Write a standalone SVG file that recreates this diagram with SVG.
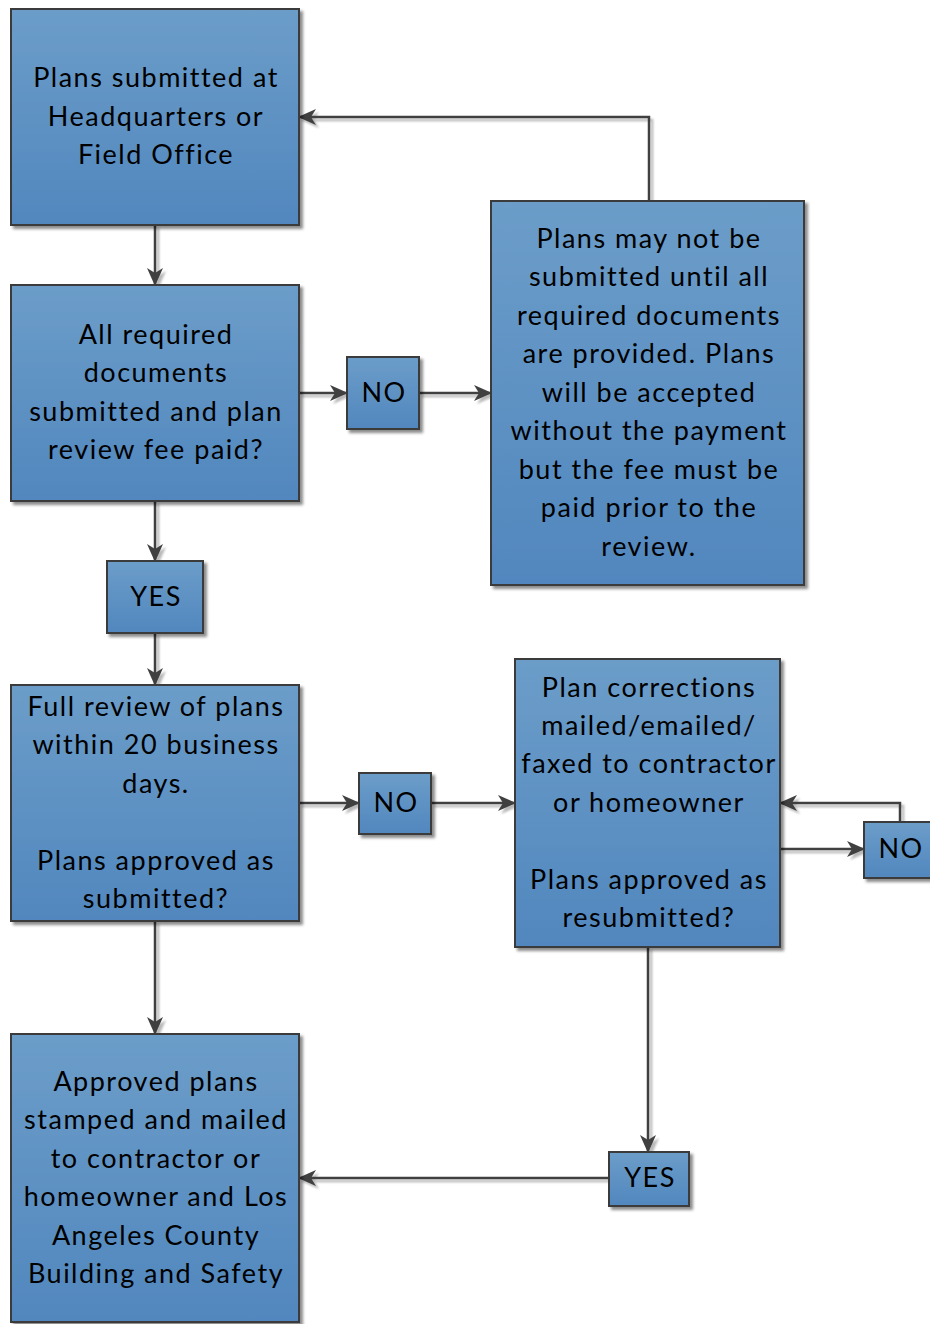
<svg xmlns="http://www.w3.org/2000/svg" width="930" height="1324" viewBox="0 0 930 1324">
<defs>
<linearGradient id="g" x1="0" y1="0" x2="0" y2="1">
<stop offset="0" stop-color="#6c9dc9"/>
<stop offset="1" stop-color="#5187be"/>
</linearGradient>
<filter id="sh" x="-10%" y="-10%" width="130%" height="130%">
<feDropShadow dx="3" dy="3" stdDeviation="1.5" flood-color="#000" flood-opacity="0.45"/>
</filter>
<filter id="lsh" x="-10%" y="-10%" width="130%" height="130%">
<feDropShadow dx="3" dy="3" stdDeviation="1" flood-color="#000" flood-opacity="0.28"/>
</filter>
<marker id="ah" viewBox="0 0 18 16" refX="17" refY="8" markerWidth="18" markerHeight="16" markerUnits="userSpaceOnUse" orient="auto">
<path d="M0,0 L18,8 L0,16 L5,8 Z" fill="#404040"/>
</marker>
</defs>
<style>
.box{fill:url(#g);stroke:#3b3b3b;stroke-width:2;filter:url(#sh)}
.t{font-family:Lato,"Open Sans",sans-serif;font-size:27px;letter-spacing:1.5px;fill:#000;text-anchor:middle}
.c{fill:none;stroke:#404040;stroke-width:2.5;marker-end:url(#ah)}
</style>
<rect width="930" height="1324" fill="#fff"/>
<g id="connectors" filter="url(#lsh)">
<path class="c" d="M155,225 V285"/>
<path class="c" d="M299,393 H347"/>
<path class="c" d="M419,393 H491"/>
<path class="c" d="M649,201 V117 H299"/>
<path class="c" d="M155,501 V561"/>
<path class="c" d="M155,633 V685"/>
<path class="c" d="M299,803 H359"/>
<path class="c" d="M431,803 H515"/>
<path class="c" d="M780,849 H864"/>
<path class="c" d="M900,822 V803 H780"/>
<path class="c" d="M648,947 V1152"/>
<path class="c" d="M609,1178 H299"/>
<path class="c" d="M155,921 V1034"/>
</g>
<g id="n1"><rect class="box" x="11" y="9" width="288" height="216"/>
<text class="t" x="156" y="87">Plans submitted at</text><text class="t" x="156" y="126">Headquarters or</text><text class="t" x="156" y="164">Field Office</text></g>
<g id="n2"><rect class="box" x="11" y="285" width="288" height="216"/>
<text class="t" x="156" y="344">All required</text><text class="t" x="156" y="382">documents</text><text class="t" x="156" y="421">submitted and plan</text><text class="t" x="156" y="459">review fee paid?</text></g>
<g id="no1"><rect class="box" x="347" y="357" width="72" height="72"/><text class="t" x="384" y="402">NO</text></g>
<g id="n3"><rect class="box" x="491" y="201" width="313" height="384"/>
<text class="t" x="649" y="248">Plans may not be</text><text class="t" x="649" y="286">submitted until all</text><text class="t" x="649" y="325">required documents</text><text class="t" x="649" y="363">are provided. Plans</text><text class="t" x="649" y="402">will be accepted</text><text class="t" x="649" y="440">without the payment</text><text class="t" x="649" y="479">but the fee must be</text><text class="t" x="649" y="517">paid prior to the</text><text class="t" x="649" y="556">review.</text></g>
<g id="yes1"><rect class="box" x="107" y="561" width="96" height="72"/><text class="t" x="156" y="606">YES</text></g>
<g id="n4"><rect class="box" x="11" y="685" width="288" height="236"/>
<text class="t" x="156" y="716">Full review of plans</text><text class="t" x="156" y="754">within 20 business</text><text class="t" x="156" y="793">days.</text><text class="t" x="156" y="870">Plans approved as</text><text class="t" x="156" y="908">submitted?</text></g>
<g id="no2"><rect class="box" x="359" y="773" width="72" height="61"/><text class="t" x="396" y="812">NO</text></g>
<g id="n5"><rect class="box" x="515" y="659" width="265" height="288"/>
<text class="t" x="649" y="697">Plan corrections</text><text class="t" x="649" y="735">mailed/emailed/</text><text class="t" x="649" y="773">faxed to contractor</text><text class="t" x="649" y="812">or homeowner</text><text class="t" x="649" y="889">Plans approved as</text><text class="t" x="649" y="927">resubmitted?</text></g>
<g id="no3"><rect class="box" x="864" y="822" width="72" height="56"/><text class="t" x="901" y="858">NO</text></g>
<g id="n6"><rect class="box" x="11" y="1034" width="288" height="288"/>
<text class="t" x="156" y="1091">Approved plans</text><text class="t" x="156" y="1129">stamped and mailed</text><text class="t" x="156" y="1168">to contractor or</text><text class="t" x="156" y="1206">homeowner and Los</text><text class="t" x="156" y="1245">Angeles County</text><text class="t" x="156" y="1283">Building and Safety</text></g>
<g id="yes2"><rect class="box" x="609" y="1152" width="80" height="54"/><text class="t" x="650" y="1187">YES</text></g>
</svg>
